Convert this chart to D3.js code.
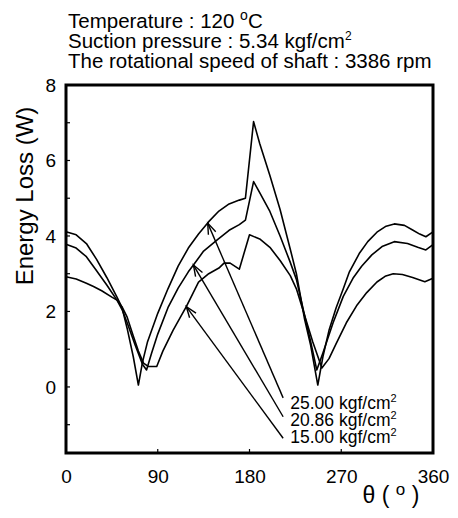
<!DOCTYPE html>
<html>
<head>
<meta charset="utf-8">
<script src="https://cdn.jsdelivr.net/npm/d3@7"></script>
<style>
  body { margin: 0; background: #fff; }
  text { font-family: Arial, "Liberation Sans", sans-serif; fill: #000; }
</style>
</head>
<body>
<div id="chart"></div>
<script>
// energy loss vs crank angle, three discharge pressures
const curveA = [ // 25.00 kgf/cm2
  [0,4.11],[10,4.03],[20,3.8],[30,3.38],[40,2.9],[50,2.38],[55,2.1],[60,1.55],[66,0.8],[71,0.05],
  [75,0.65],[80,1.2],[90,1.95],[100,2.6],[110,3.2],[120,3.68],[130,4.05],[140,4.38],[150,4.66],
  [160,4.85],[170,4.95],[176,5.0],[184,7.03],[190,6.45],[200,5.6],[210,4.7],[220,3.65],[226,3.0],
  [234,1.8],[240,1.1],[247,0.05],[252,0.8],[258,1.5],[265,2.1],[272,2.6],[278,3.05],[288,3.55],
  [296,3.85],[305,4.1],[314,4.26],[322,4.32],[332,4.28],[340,4.16],[347,4.05],[353,3.98],[360,4.11]
];
const curveB = [ // 20.86 kgf/cm2
  [0,3.78],[10,3.68],[20,3.45],[30,3.08],[40,2.7],[50,2.3],[55,2.05],[60,1.7],[68,1.1],[75,0.6],
  [79,0.45],[84,0.9],[90,1.4],[100,2.1],[110,2.62],[120,3.05],[125,3.23],[135,3.6],[148,3.89],
  [160,4.15],[170,4.3],[176,4.42],[184,5.44],[190,5.15],[200,4.65],[210,4.0],[220,3.3],[226,2.85],
  [234,1.9],[240,1.2],[246,0.45],[252,0.9],[262,1.7],[272,2.4],[282,2.9],[290,3.2],[300,3.5],
  [310,3.72],[322,3.85],[335,3.8],[345,3.7],[353,3.63],[360,3.77]
];
const curveC = [ // 15.00 kgf/cm2
  [0,2.92],[10,2.86],[20,2.75],[27,2.66],[35,2.55],[45,2.38],[50,2.3],[55,2.12],[60,1.85],[66,1.35],
  [71,0.95],[76,0.63],[81,0.54],[89,0.54],[95,0.95],[105,1.5],[118,2.13],[130,2.78],[140,3.0],
  [150,3.15],[155,3.28],[161,3.28],[170,3.12],[180,4.03],[190,3.92],[200,3.7],[210,3.35],[220,2.95],
  [226,2.6],[234,1.9],[242,1.2],[251,0.5],[258,0.75],[265,1.15],[275,1.7],[285,2.15],[295,2.5],
  [305,2.78],[313,2.93],[321,3.0],[330,2.98],[340,2.9],[352,2.79],[360,2.88]
];

const seriesNames = ["25.00", "20.86", "15.00"];
// arrow: tail [theta, value] near the label, head [theta, value] on the curve
const arrowTails = [[213,-0.29],[213,-0.79],[213,-1.36]];
const arrowHeads = [[139,4.34],[125,3.23],[118,2.13]];
const labelPos = [[220,-0.58],[220,-1.04],[220,-1.48]];

const xTicks = [0, 90, 180, 270, 360];
const yTicks = [0, 2, 4, 6, 8];
const yMinor = [-1, 1, 3, 5, 7];
const titleLines = ["Temperature : 120 ", "Suction pressure : 5.34 kgf/cm", "The rotational speed of shaft : 3386 rpm"];

const width = 458, height = 518;
const m = { left: 66, right: 433, top: 85, bottom: 453 };

const x = d3.scaleLinear().domain([0, 360]).range([m.left, m.right]);
const y = d3.scaleLinear().domain([-1.75, 8]).range([m.bottom, m.top]);

const svg = d3.select("#chart").append("svg")
  .attr("width", width).attr("height", height);

svg.append("defs").append("marker")
  .attr("id", "arr")
  .attr("viewBox", "-12 -6 14 12")
  .attr("refX", 0).attr("refY", 0)
  .attr("markerWidth", 14).attr("markerHeight", 12)
  .attr("markerUnits", "userSpaceOnUse")
  .attr("orient", "auto")
  .append("path")
  .attr("d", "M-11,-4 L0,0 L-11,4")
  .attr("fill", "none").attr("stroke", "#000").attr("stroke-width", 1.4);

// title block
const title = svg.append("g").style("font-size", "20.5px");
const t1 = title.append("text").attr("x", 68).attr("y", 28).text(titleLines[0]);
t1.append("tspan").attr("dy", -8).style("font-size", "14px").text("o");
t1.append("tspan").attr("dy", 8).text("C");
const t2 = title.append("text").attr("x", 68).attr("y", 48).text(titleLines[1]);
t2.append("tspan").attr("dy", -8).style("font-size", "12px").text("2");
title.append("text").attr("x", 68).attr("y", 68).text(titleLines[2]);

// curves
const line = d3.line().x(d => x(d[0])).y(d => y(d[1]));
[curveA, curveB, curveC].forEach(c => {
  svg.append("path").datum(c)
    .attr("d", line)
    .attr("fill", "none").attr("stroke", "#000").attr("stroke-width", 1.6)
    .attr("stroke-linejoin", "round");
});

// arrows and labels
seriesNames.forEach((name, i) => {
  svg.append("line")
    .attr("x1", x(arrowTails[i][0])).attr("y1", y(arrowTails[i][1]))
    .attr("x2", x(arrowHeads[i][0])).attr("y2", y(arrowHeads[i][1]))
    .attr("stroke", "#000").attr("stroke-width", 1.4)
    .attr("marker-end", "url(#arr)");
  const t = svg.append("text")
    .attr("x", x(labelPos[i][0])).attr("y", y(labelPos[i][1]))
    .style("font-size", "17.5px").text(name + " kgf/cm");
  t.append("tspan").attr("dy", -7).style("font-size", "11px").text("2");
});

// axes
const yAxis = d3.axisLeft(y).tickValues(yTicks).tickSize(0).tickPadding(10);
const gy = svg.append("g").attr("transform", `translate(${m.left},0)`).call(yAxis);
gy.select(".domain").remove();
gy.selectAll("text").style("font-size", "19px").style("font-family", "Arial, 'Liberation Sans', sans-serif");

const xAxis = d3.axisBottom(x).tickValues(xTicks).tickSize(0).tickPadding(17);
const gx = svg.append("g").attr("transform", `translate(0,${m.bottom})`).call(xAxis);
gx.select(".domain").remove();
gx.selectAll("text").style("font-size", "19px").style("font-family", "Arial, 'Liberation Sans', sans-serif");

// inward ticks
svg.append("g").selectAll("line").data(yTicks.concat(yMinor)).join("line")
  .attr("x1", m.left).attr("x2", m.left + 4)
  .attr("y1", d => y(d)).attr("y2", d => y(d))
  .attr("stroke", "#000").attr("stroke-width", 1.2);
svg.append("g").selectAll("line").data(xTicks.slice(1, -1)).join("line")
  .attr("x1", d => x(d)).attr("x2", d => x(d))
  .attr("y1", m.bottom).attr("y2", m.bottom - 4)
  .attr("stroke", "#000").attr("stroke-width", 1.2);

// frame
svg.append("rect")
  .attr("x", m.left).attr("y", m.top)
  .attr("width", m.right - m.left).attr("height", m.bottom - m.top)
  .attr("fill", "none").attr("stroke", "#000").attr("stroke-width", 3);

// axis titles
svg.append("text")
  .attr("transform", "translate(33,196) rotate(-90)")
  .attr("text-anchor", "middle")
  .style("font-size", "24px").text("Energy Loss (W)");

const xl = svg.append("text").attr("x", 391).attr("y", 503)
  .attr("text-anchor", "middle").style("font-size", "23px").text("θ ( ");
xl.append("tspan").attr("dy", -8).style("font-size", "17px").text("o");
xl.append("tspan").attr("dy", 8).text(" )");
</script>
</body>
</html>
